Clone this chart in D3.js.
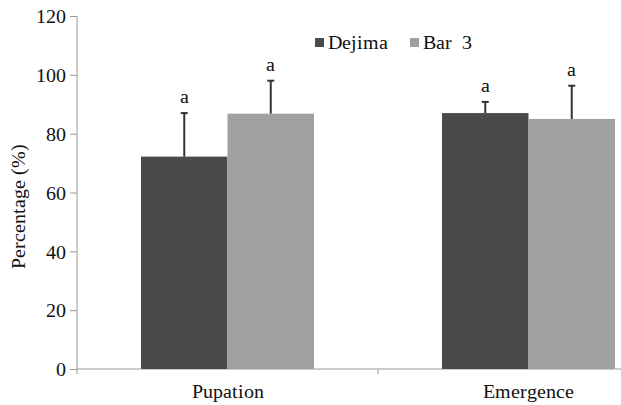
<!DOCTYPE html>
<html><head><meta charset="utf-8">
<script src="https://cdn.jsdelivr.net/npm/d3@7"></script>
<style>
@font-face{font-family:"ChartSerif";src:local("Liberation Serif"),local("LiberationSerif"),local("Liberation Serif Regular"),local("Tinos");}
svg text{font-family:"ChartSerif","Times New Roman","Liberation Serif",serif;}
</style>
</head><body style="margin:0;background:#fff"><svg id="c" width="621" height="405"></svg>
<script>
const categories = ["Pupation", "Emergence"];
const seriesNames = ["Dejima", "Bar  3"];
const dejimaValues = [72.2, 87];
const dejimaErrors = [14.8, 3.8];
const bar3Values = [86.8, 85];
const bar3Errors = [11.2, 11.3];
const letters = [["a", "a"], ["a", "a"]];
const yTicks = [0, 20, 40, 60, 80, 100, 120];
const colors = ["#4a4a4a", "#a0a0a0"];

const svg = d3.select("#c");
const x0 = 77, x1 = 679, yTop = 16, yBot = 369;
const x = d3.scaleBand().domain(categories).range([x0, x1]).paddingInner(0).paddingOuter(0);
const y = d3.scaleLinear().domain([0, 120]).range([yBot, yTop]);
const inner = d3.scaleBand().domain(seriesNames).range([0, x.bandwidth()]).paddingOuter(0.74).paddingInner(0);

const data = categories.map((c, i) => ({cat: c, vals: [
  {s: seriesNames[0], v: dejimaValues[i], e: dejimaErrors[i], l: letters[0][i], col: colors[0]},
  {s: seriesNames[1], v: bar3Values[i], e: bar3Errors[i], l: letters[1][i], col: colors[1]}
]}));

function txt(sel) {
  return sel.attr("font-size", 20).attr("fill", "#111");
}

// y axis
const ya = svg.append("g").attr("transform", `translate(${x0},0)`)
  .call(d3.axisLeft(y).tickValues(yTicks).tickSize(7).tickPadding(4));
ya.attr("font-family", null).attr("font-size", 20);
ya.select(".domain").attr("stroke", "#9a9a9a").attr("d", `M0,${yTop}V${yBot}`);
ya.selectAll(".tick line").attr("stroke", "#9a9a9a");
txt(ya.selectAll(".tick text")).attr("dy", "0.34em");

// x axis
const xa = svg.append("g").attr("transform", `translate(0,${yBot})`);
xa.append("line").attr("x1", x0).attr("x2", x1).attr("stroke", "#9a9a9a");
const bounds = [x0, ...categories.map(c => x(c) + x.bandwidth())];
xa.selectAll(".xt").data(bounds).enter().append("line")
  .attr("x1", d => d).attr("x2", d => d).attr("y1", 0).attr("y2", 5).attr("stroke", "#9a9a9a");
txt(xa.selectAll(".xl").data(categories).enter().append("text")
  .attr("x", d => x(d) + x.bandwidth() / 2).attr("y", 29).attr("text-anchor", "middle")).text(d => d);

// bars
const g = svg.selectAll(".grp").data(data).enter().append("g").attr("transform", d => `translate(${x(d.cat)},0)`);
g.selectAll("rect").data(d => d.vals).enter().append("rect")
  .attr("x", d => inner(d.s)).attr("width", inner.bandwidth())
  .attr("y", d => y(d.v)).attr("height", d => yBot - y(d.v)).attr("fill", d => d.col);
const eb = g.selectAll(".eb").data(d => d.vals).enter().append("g");
const cx = d => inner(d.s) + inner.bandwidth() / 2;
eb.append("line").attr("x1", cx).attr("x2", cx)
  .attr("y1", d => y(d.v)).attr("y2", d => y(d.v + d.e)).attr("stroke", "#333").attr("stroke-width", 2);
eb.append("line").attr("x1", d => cx(d) - 3.5).attr("x2", d => cx(d) + 3.5)
  .attr("y1", d => y(d.v + d.e)).attr("y2", d => y(d.v + d.e)).attr("stroke", "#333").attr("stroke-width", 2);
txt(eb.append("text").attr("x", cx).attr("y", d => y(d.v + d.e) - 10).attr("text-anchor", "middle")).text(d => d.l);

// y label
txt(svg.append("text").attr("transform", `translate(25,${(yTop + yBot) / 2 + 14}) rotate(-90)`)
  .attr("text-anchor", "middle")).text("Percentage (%)");

// legend
const legX = [315, 410];
const lg = svg.selectAll(".lg").data(seriesNames).enter().append("g").attr("transform", (d, i) => `translate(${legX[i]},38)`);
lg.append("rect").attr("width", 9).attr("height", 9).attr("fill", (d, i) => colors[i]);
txt(lg.append("text").attr("x", 13).attr("y", 11)).style("white-space", "pre").text(d => d);
</script></body></html>
